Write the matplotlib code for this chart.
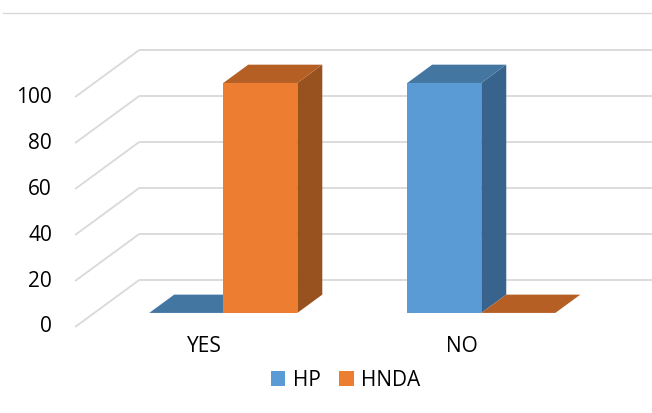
import matplotlib
matplotlib.use('Agg')
import matplotlib.pyplot as plt
from matplotlib.patches import Polygon, Patch
from matplotlib.lines import Line2D

# chart data
categories = ['YES', 'NO']
series_names = ['HP', 'HNDA']
hp_values = [0, 100]
hnda_values = [100, 0]
y_ticks = [0, 20, 40, 60, 80, 100]

# face colours per series: front, top, side
face_colors = {
    'HP': ('#5B9BD5', '#4476A2', '#38638C'),
    'HNDA': ('#ED7D31', '#B55F24', '#97521F'),
}
grid_color = '#D9D9D9'

# oblique projection of the depth axis, in data units
DX = 0.248     # x shift from front to back wall
DY = 20.4      # value shift from front to back wall
D0, D1 = 0.30, 0.69   # depth of bar front / back faces
BAR_W = 0.287

fig = plt.figure(figsize=(6.52, 4.13), dpi=100)
ax = fig.add_axes([0, 0, 1, 1])
ax.set_xlim(-0.791, 1.736)
ax.set_ylim(-37.4, 142.2)
ax.axis('off')

plt.rcParams['font.family'] = ['Open Sans', 'DejaVu Sans']

# side wall diagonals and back wall gridlines
x_left, x_right = -0.5, len(categories) - 0.5
for v in y_ticks:
    ax.plot([x_left, x_left + DX], [v, v + DY], color=grid_color, lw=1.3,
            solid_capstyle='butt', zorder=1)
    ax.plot([x_left + DX, x_right + DX], [v + DY, v + DY], color=grid_color,
            lw=1.3, solid_capstyle='butt', zorder=1)
    ax.annotate(str(v), (x_left, v), xytext=(-23, 0), textcoords='offset pixels',
                ha='right', va='center', fontsize=15, color='black')


def draw_bar(x0, value, colors):
    front, top, side = colors
    ddx = (D1 - D0) * DX
    xl = x0 + D0 * DX
    xr = xl + BAR_W
    yb = D0 * DY
    yt = value + D0 * DY
    yt_back = value + D1 * DY
    if value > 0:
        ax.add_patch(Polygon([(xl, yb), (xr, yb), (xr, yt), (xl, yt)],
                             closed=True, fc=front, ec='none', zorder=3))
        ax.add_patch(Polygon([(xr, yb), (xr, yt), (xr + ddx, yt_back),
                              (xr + ddx, D1 * DY)],
                             closed=True, fc=side, ec='none', zorder=3))
    ax.add_patch(Polygon([(xl, yt), (xr, yt), (xr + ddx, yt_back),
                          (xl + ddx, yt_back)],
                         closed=True, fc=top, ec='none', zorder=3))


for i, cat in enumerate(categories):
    draw_bar(i - BAR_W, hp_values[i], face_colors['HP'])
    draw_bar(i, hnda_values[i], face_colors['HNDA'])
    ax.annotate(cat, (i, 0), xytext=(0, -20), textcoords='offset pixels',
                ha='center', va='center', fontsize=15, color='black')

# chart border top edge
fig.add_artist(Line2D([3 / 652, 1], [1 - 13 / 413, 1 - 13 / 413],
                      color=grid_color, lw=1.0))

handles = [Patch(facecolor=face_colors[s][0], edgecolor='none', label=s)
           for s in series_names]
fig.legend(handles=handles, loc='center', bbox_to_anchor=(345.5 / 652, 1 - 380 / 413),
           ncol=2, frameon=False, fontsize=15, handlelength=0.7, handleheight=0.7,
           handletextpad=0.35, columnspacing=0.9, borderpad=0)

fig.savefig('out.png', dpi=100)
